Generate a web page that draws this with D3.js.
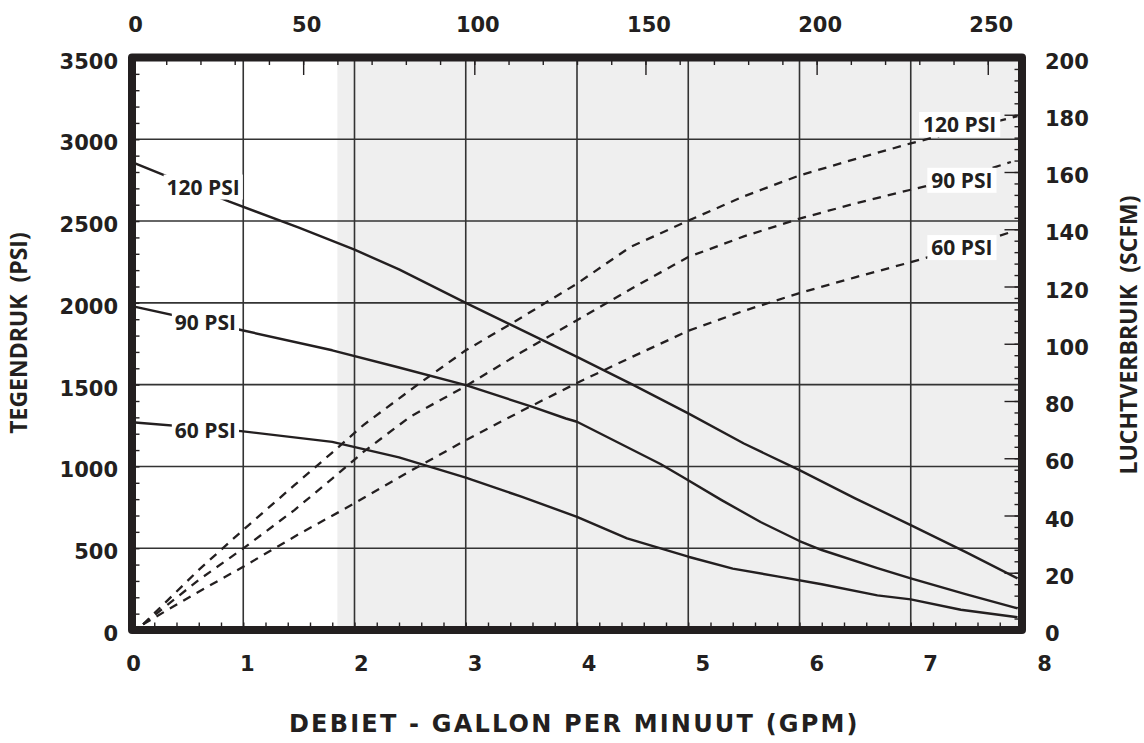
<!DOCTYPE html>
<html>
<head>
<meta charset="utf-8">
<script src="https://cdn.jsdelivr.net/npm/d3@7"></script>
<style>
  body { margin: 0; background: #fff; }
  .lbl text { font-family: "DejaVu Sans", sans-serif; font-weight: bold; font-size: 21px; fill: #231f20; }
  .title { font-family: "Open Sans", sans-serif; font-weight: bold; fill: #231f20; }
  .psi { font-family: "Open Sans", sans-serif; font-weight: bold; font-size: 21px; fill: #231f20; }
</style>
</head>
<body>
<svg id="chart" width="1144" height="743"></svg>
<script>
// axis ticks
var gpmTicks = [0, 1, 2, 3, 4, 5, 6, 7, 8];
var lpmTicks = [0, 50, 100, 150, 200, 250];
var psiTicks = [0, 500, 1000, 1500, 2000, 2500, 3000, 3500];
var scfmTicks = [0, 20, 40, 60, 80, 100, 120, 140, 160, 180, 200];
var shadeFrom = 60; // grey band starts here (top axis units)

// back pressure (solid, left axis)
var back120Gpm = [0, 0.87, 1.5, 2.0, 2.4, 3.0, 3.5, 4.0, 4.5, 5.0, 5.5, 6.0, 6.5, 7.0, 7.5, 7.96];
var back120Psi = [2860, 2620, 2460, 2325, 2205, 2000, 1835, 1670, 1500, 1324, 1140, 977, 805, 641, 475, 316];
var back90Gpm = [0, 0.96, 1.8, 2.4, 3.0, 3.6, 3.9, 4.0, 4.75, 4.95, 5.3, 5.65, 6.0, 6.2, 6.7, 7.0, 7.5, 7.96];
var back90Psi = [1980, 1837, 1710, 1605, 1497, 1364, 1293, 1273, 1015, 935, 794, 660, 544, 489, 378, 316, 218, 132];
var back60Gpm = [0, 0.98, 1.8, 2.4, 3.0, 3.5, 4.0, 4.45, 5.0, 5.4, 5.8, 6.2, 6.7, 7.0, 7.45, 7.96];
var back60Psi = [1270, 1216, 1150, 1055, 931, 815, 692, 560, 448, 375, 328, 280, 212, 187, 124, 78];

// air consumption (dashed, right axis)
var air120Gpm = [0.1, 0.6, 1.0, 1.46, 1.8, 2.08, 2.56, 3.0, 3.46, 4.0, 4.48, 5.0, 5.5, 6.0, 6.5, 7.0, 7.5, 7.96];
var air120Scfm = [2, 21, 35, 50.6, 62, 71.6, 85.5, 97.7, 108.2, 121, 133.8, 143, 151.5, 158.8, 164.5, 170, 175, 179.5];
var air90Gpm = [0.1, 0.6, 1.0, 1.46, 1.8, 2.08, 2.5, 3.0, 3.5, 4.0, 4.5, 5.0, 5.5, 6.0, 6.5, 7.0, 7.5, 7.9];
var air90Scfm = [2, 17.5, 28.5, 41.9, 52.9, 62.2, 74.5, 85.2, 97, 108.2, 119.5, 130.3, 137.5, 143.7, 149, 153.8, 158.5, 163.5];
var air60Gpm = [0.1, 0.6, 1.0, 1.5, 1.92, 2.5, 3.0, 3.5, 4.0, 4.5, 5.0, 5.5, 6.0, 6.5, 7.0, 7.5, 7.9];
var air60Scfm = [2, 13.4, 22.1, 33.5, 42.5, 55.5, 66.3, 76.5, 86.3, 95.5, 104.5, 111.5, 117.7, 123.2, 128.5, 134, 139];

var curveNames = ["120 PSI", "90 PSI", "60 PSI"];
// where the curve names sit, in data units
var backLabelAt = [[0.64, 2708], [0.66, 1881], [0.66, 1222]];
var airLabelAt = [[7.44, 176.6], [7.46, 157.1], [7.46, 133.6]];

var ink = "#231f20";
var svg = d3.select("#chart");

var pLeft = 132, pRight = 1022, pTop = 57.5, pBottom = 630;

var x = d3.scaleLinear().domain([0, 8]).range([pLeft, pRight]);
var xTop = d3.scaleLinear().domain([0, 260]).range([pLeft, pRight]);
var yL = d3.scaleLinear().domain([0, 3500]).range([pBottom, pTop]);
var yR = d3.scaleLinear().domain([0, 200]).range([pBottom, pTop]);
// the printed numbers under the frame are spread slightly wider than the grid
var xNum = d3.scaleLinear().domain([0, 8]).range([133, 1044]);

// grey band
svg.append("rect")
    .attr("x", xTop(shadeFrom)).attr("y", pTop)
    .attr("width", pRight - xTop(shadeFrom)).attr("height", pBottom - pTop)
    .attr("fill", "#efefef");

// grid
var grid = svg.append("g").attr("stroke", "#333").attr("stroke-width", 1.6);
grid.selectAll("line.v").data(gpmTicks.slice(1, -1)).enter().append("line")
    .attr("x1", d => x(d)).attr("x2", d => x(d))
    .attr("y1", pTop).attr("y2", pBottom);
grid.selectAll("line.h").data(psiTicks.slice(1, -1)).enter().append("line")
    .attr("x1", pLeft).attr("x2", pRight)
    .attr("y1", d => yL(d)).attr("y2", d => yL(d));

// curves
var backLine = d3.line().x(d => x(d[0])).y(d => yL(d[1]));
var airLine = d3.line().x(d => x(d[0])).y(d => yR(d[1]));
var backs = [d3.zip(back120Gpm, back120Psi), d3.zip(back90Gpm, back90Psi), d3.zip(back60Gpm, back60Psi)];
var airs = [d3.zip(air120Gpm, air120Scfm), d3.zip(air90Gpm, air90Scfm), d3.zip(air60Gpm, air60Scfm)];

svg.append("g").selectAll("path").data(backs).enter().append("path")
    .attr("d", backLine)
    .attr("fill", "none").attr("stroke", ink).attr("stroke-width", 2.4)
    .attr("stroke-linejoin", "round");
svg.append("g").selectAll("path").data(airs).enter().append("path")
    .attr("d", airLine)
    .attr("fill", "none").attr("stroke", ink).attr("stroke-width", 2.3)
    .attr("stroke-dasharray", "8.5,7");

// curve names with white boxes
function addLabels(pos, yScale, pad) {
  var g = svg.append("g");
  pos.forEach(function(p, i) {
    var cx = x(p[0]), cy = yScale(p[1]);
    var box = g.append("rect").attr("fill", "#fff");
    var t = g.append("text").attr("class", "psi")
        .attr("x", cx).attr("y", cy).attr("dy", "0.36em")
        .attr("text-anchor", "middle").text(curveNames[i]);
    var bb = t.node().getBBox();
    box.attr("x", bb.x - pad).attr("y", cy - 12.5)
       .attr("width", bb.width + 2 * pad).attr("height", 25);
  });
}
addLabels(backLabelAt, yL, 3);
addLabels(airLabelAt, yR, 4);

// inner tick marks
function marks(axis, tr) {
  var g = svg.append("g").attr("transform", tr).call(axis.tickFormat(""));
  g.select(".domain").remove();
  g.selectAll("line").attr("stroke", ink).attr("stroke-width", 1.4);
}
marks(d3.axisBottom(x).tickValues(d3.range(0, 8.01, 0.2)).tickSize(-7.5), "translate(0," + pBottom + ")");
marks(d3.axisLeft(yL).tickValues(d3.range(0, 3501, 100)).tickSize(-7.5), "translate(" + pLeft + ",0)");
marks(d3.axisTop(xTop).tickValues(d3.range(0, 261, 10)).tickSize(-7.5), "translate(0," + pTop + ")");
marks(d3.axisTop(xTop).tickValues(lpmTicks).tickSize(-17.5), "translate(0," + pTop + ")");
marks(d3.axisRight(yR).tickValues(d3.range(0, 201, 4)).tickSize(-7.5), "translate(" + pRight + ",0)");
marks(d3.axisRight(yR).tickValues(scfmTicks).tickSize(-17.5), "translate(" + pRight + ",0)");

// heavy frame
svg.append("rect")
    .attr("x", pLeft).attr("y", pTop)
    .attr("width", pRight - pLeft).attr("height", pBottom - pTop)
    .attr("fill", "none").attr("stroke", ink).attr("stroke-width", 8)
    .attr("stroke-linejoin", "round");

// numbers
function numbers(axis, tr, fix) {
  var g = svg.append("g").attr("class", "lbl").attr("transform", tr)
      .call(axis.tickSize(0));
  g.select(".domain").remove();
  g.selectAll("line").remove();
  fix(g.selectAll("text"));
}
numbers(d3.axisBottom(xNum).tickValues(gpmTicks).tickFormat(d3.format("d")), "translate(0,0)",
  t => t.attr("y", 670.5).attr("dy", null));
numbers(d3.axisTop(xTop).tickValues(lpmTicks).tickFormat(d3.format("d")), "translate(0,0)",
  t => t.attr("y", 31.5).attr("dy", null).attr("dx", 3));
numbers(d3.axisLeft(yL).tickValues(psiTicks).tickFormat(d3.format("d")), "translate(" + pLeft + ",0)",
  t => t.attr("x", -14).attr("dy", "0.5em"));
numbers(d3.axisRight(yR).tickValues(scfmTicks).tickFormat(d3.format("d")), "translate(" + pRight + ",0)",
  t => t.attr("x", 23).attr("dy", "0.5em"));

// axis titles
svg.append("text").attr("class", "title")
    .attr("x", 289).attr("y", 732)
    .style("font-family", "'DejaVu Sans', sans-serif")
    .style("font-size", "24px").style("letter-spacing", "2.2px")
    .text("DEBIET - GALLON PER MINUUT (GPM)");
svg.append("text").attr("class", "title")
    .attr("transform", "translate(26.5,333) rotate(-90)")
    .attr("text-anchor", "middle").style("font-size", "23px")
    .style("white-space", "pre")
    .text("TEGENDRUK  (PSI)");
svg.append("text").attr("class", "title")
    .attr("transform", "translate(1137,335) rotate(-90)")
    .attr("text-anchor", "middle").style("font-size", "23px")
    .style("white-space", "pre")
    .text("LUCHTVERBRUIK  (SCFM)");
</script>
</body>
</html>
